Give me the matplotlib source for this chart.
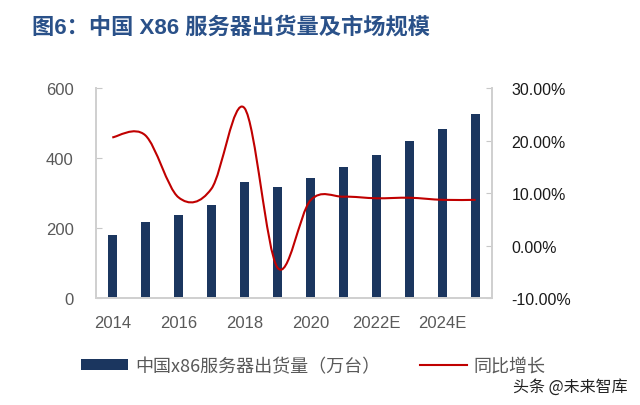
import numpy as np
import matplotlib
matplotlib.use("Agg")
import matplotlib.pyplot as plt
from matplotlib.path import Path
from matplotlib.patches import PathPatch, Patch
from matplotlib.lines import Line2D
from matplotlib.ticker import FuncFormatter

plt.rcParams['font.family'] = ['Liberation Sans', 'Noto Sans CJK SC', 'DejaVu Sans']

# data
years = ['2014', '2015', '2016', '2017', '2018', '2019', '2020', '2021',
         '2022E', '2023E', '2024E', '2025E']
shipments = [180, 217, 238, 265, 331, 316, 343, 373, 410, 448, 483, 526]   # 万台
growth = [20.6, 21.0, 9.2, 10.8, 26.2, -4.2, 8.6, 9.3, 9.0, 9.1, 8.7, 8.7]  # %

navy = '#1B365F'
red = '#C00000'


def smooth_path(xs, ys):
    # Catmull-Rom style bezier through the points (like Excel "smoothed line")
    pts = list(zip(xs, ys))
    verts = [pts[0]]
    codes = [Path.MOVETO]
    n = len(pts)
    for i in range(n - 1):
        p0 = pts[i - 1] if i > 0 else pts[i]
        p1 = pts[i]
        p2 = pts[i + 1]
        p3 = pts[i + 2] if i + 2 < n else pts[i + 1]
        c1 = (p1[0] + (p2[0] - p0[0]) / 6, p1[1] + (p2[1] - p0[1]) / 6)
        c2 = (p2[0] - (p3[0] - p1[0]) / 6, p2[1] - (p3[1] - p1[1]) / 6)
        verts += [c1, c2, p2]
        codes += [Path.CURVE4] * 3
    return Path(verts, codes)


fig = plt.figure(figsize=(6.4, 4.06), dpi=100)
ax = fig.add_axes([0.1496, 0.2635, 0.6194, 0.5172])
ax2 = ax.twinx()

x = np.arange(len(years))
ax.bar(x, shipments, width=0.28, color=navy, zorder=2)
ax.set_xlim(-0.5, len(years) - 0.5)
ax.set_ylim(0, 600)
ax.set_yticks([0, 200, 400, 600])
ax.set_xticks(x[::2])
ax.set_xticklabels(years[::2])

ax2.add_patch(PathPatch(smooth_path(x, growth), facecolor='none',
                        edgecolor=red, lw=1.5, zorder=3))
ax2.set_ylim(-10, 30)
ax2.set_yticks([-10, 0, 10, 20, 30])
ax2.yaxis.set_major_formatter(FuncFormatter(lambda v, p: '%.2f%%' % v))

for a in (ax, ax2):
    a.spines['top'].set_visible(False)
    for s in ('left', 'right', 'bottom'):
        a.spines[s].set_color('#D0D0D0')
        a.spines[s].set_linewidth(1.3)

ax.tick_params(axis='y', direction='in', length=4, color='#C8C8C8',
               labelsize=12, labelcolor='#595959', pad=16)
ax.tick_params(axis='x', length=0, labelsize=12, labelcolor='#595959', pad=12)
ax2.tick_params(axis='y', direction='in', length=4, color='#C8C8C8',
                labelsize=11.5, labelcolor='#1A1A1A', pad=14)

fig.text(0.05, 0.931, '图6：中国 X86 服务器出货量及市场规模', fontsize=16,
         fontweight='bold', color='#2A5189', va='center', ha='left')

handles = [Patch(facecolor=navy, edgecolor='none'),
           Line2D([], [], color=red, lw=1.5)]
labels = ['中国x86服务器出货量（万台）', '同比增长']
fig.legend(handles, labels, loc='center left', bbox_to_anchor=(0.126, 0.096),
           frameon=False, ncol=2, handlelength=2.6,
           handleheight=0.55, handletextpad=0.4, columnspacing=2.2,
           borderpad=0, borderaxespad=0, labelcolor='#595959',
           prop={'family': ['Noto Sans CJK SC'], 'size': 13})

fig.text(0.981, 0.047, '头条 @未来智库', fontsize=11.5, color='#222222',
         ha='right', va='center', family=['Noto Sans CJK SC'])

fig.savefig('out.png', dpi=100)
